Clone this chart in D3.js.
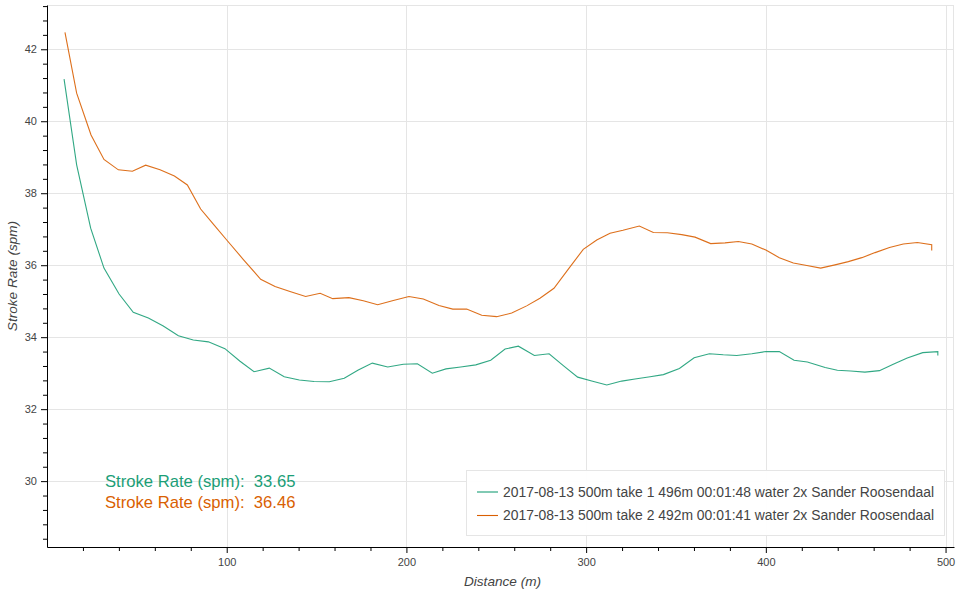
<!DOCTYPE html>
<html><head><meta charset="utf-8">
<script src="https://cdn.jsdelivr.net/npm/d3@7"></script>
<style>
html,body{margin:0;padding:0;background:#fff;}
text{font-family:"Liberation Sans",Arial,Helvetica,sans-serif;}
</style></head>
<body><svg id="chart" width="960" height="594"></svg>
<script>
// ---- data ----
const distance1 = [9.5,16.5,24.3,31.7,40.1,48.0,56.4,64.7,73.1,81.4,89.8,99.0,107.4,115.2,123.7,132.0,140.4,148.6,157.1,165.4,173.2,181.0,189.6,198.3,206.1,214.4,222.0,230.2,238.6,246.9,254.9,262.3,271.2,279.4,287.3,295.3,303.1,311.5,319.8,327.2,335.6,343.0,351.9,360.1,368.6,376.3,383.8,392.2,400.0,407.5,415.7,423.1,433.0,439.8,447.2,455.1,463.2,470.9,478.7,487.3,495.7,495.7];
const rate1 = [41.17,38.79,37.03,35.92,35.20,34.69,34.53,34.31,34.04,33.92,33.87,33.68,33.33,33.04,33.14,32.90,32.81,32.77,32.76,32.86,33.09,33.28,33.17,33.25,33.26,33.00,33.12,33.17,33.23,33.36,33.67,33.75,33.49,33.54,33.21,32.89,32.78,32.67,32.78,32.84,32.90,32.96,33.13,33.43,33.54,33.51,33.49,33.54,33.60,33.60,33.36,33.31,33.16,33.08,33.06,33.03,33.07,33.25,33.42,33.57,33.60,33.49];
const distance2 = [10.0,16.5,24.5,31.7,39.7,47.5,54.9,62.9,70.9,78.1,85.5,92.9,100.0,109.4,118.9,126.9,135.2,143.9,152.0,159.0,168.0,176.0,184.0,192.7,201.4,209.4,218.1,225.8,233.5,241.9,250.2,258.6,266.9,274.3,282.1,290.1,298.4,305.9,313.3,320.5,329.6,337.4,345.2,353.2,360.6,369.3,377.3,384.7,392.2,400.0,407.5,415.3,422.8,430.5,438.5,445.9,453.4,460.8,468.8,476.5,484.3,492.3,492.3];
const rate2 = [42.47,40.78,39.62,38.94,38.65,38.61,38.78,38.65,38.48,38.23,37.56,37.12,36.70,36.15,35.61,35.41,35.27,35.13,35.22,35.07,35.10,35.01,34.90,35.02,35.13,35.06,34.88,34.78,34.78,34.61,34.57,34.67,34.87,35.08,35.36,35.89,36.44,36.70,36.89,36.97,37.09,36.91,36.90,36.85,36.78,36.60,36.62,36.66,36.59,36.42,36.21,36.06,35.99,35.92,36.01,36.10,36.21,36.35,36.49,36.59,36.63,36.57,36.41];
const seriesNames = ["2017-08-13 500m take 1 496m 00:01:48 water 2x Sander Roosendaal",
                     "2017-08-13 500m take 2 492m 00:01:41 water 2x Sander Roosendaal"];
const seriesColors = ["#1b9e77", "#d95f02"];
const annotationLabels = ["Stroke Rate (spm):  33.65", "Stroke Rate (spm):  36.46"];
const xTicks = [100, 200, 300, 400, 500];
const yTicks = [30, 32, 34, 36, 38, 40, 42];
const xLabel = "Distance (m)";
const yLabel = "Stroke Rate (spm)";

// ---- layout ----
const W = 960, H = 594;
const m = {left: 47, top: 5, right: 6, bottom: 47};
const pw = W - m.left - m.right, ph = H - m.top - m.bottom;
const svg = d3.select("#chart");
const g = svg.append("g").attr("transform", `translate(${m.left},${m.top})`);

const x = d3.scaleLinear().domain([0, 504.7]).range([0, pw]);
const y = d3.scaleLinear().domain([28.17, 43.23]).range([ph, 0]);

const gridColor = "#e5e5e5";
// grid
g.append("g").selectAll("line").data(xTicks).join("line")
  .attr("x1", d => Math.round(x(d)) + 0.5).attr("x2", d => Math.round(x(d)) + 0.5)
  .attr("y1", 0).attr("y2", ph).attr("stroke", gridColor);
g.append("g").selectAll("line").data(yTicks).join("line")
  .attr("y1", d => Math.round(y(d)) + 0.5).attr("y2", d => Math.round(y(d)) + 0.5)
  .attr("x1", 0).attr("x2", pw).attr("stroke", gridColor);
// outline
g.append("rect").attr("x", 0.5).attr("y", 0.5).attr("width", pw - 1).attr("height", ph)
  .attr("fill", "none").attr("stroke", gridColor);

// lines
const series = [
  {d: distance1, r: rate1},
  {d: distance2, r: rate2}
];
const line = d3.line().x(d => x(d[0])).y(d => y(d[1]));
series.forEach((s, i) => {
  const pts = s.d.map((v, j) => [v, s.r[j]]);
  g.append("path").datum(pts).attr("d", line)
    .attr("fill", "none").attr("stroke", seriesColors[i]).attr("stroke-width", 1.1)
    .attr("stroke-opacity", 0.9);
});

// axes
const minorX = d3.range(20, 505, 20).filter(v => v % 100 !== 0);
const minorY = d3.range(28.4, 43.3, 0.4).filter(v => Math.abs(v / 2 - Math.round(v / 2)) > 0.01);

const xAxisG = g.append("g").attr("transform", `translate(0,${ph})`);
xAxisG.call(d3.axisBottom(x).tickValues(xTicks).tickSize(6).tickSizeOuter(0).tickPadding(5));
xAxisG.append("g").call(d3.axisBottom(x).tickValues(minorX).tickSize(4).tickSizeOuter(0).tickFormat(""))
  .select(".domain").remove();

const yAxisG = g.append("g");
yAxisG.call(d3.axisLeft(y).tickValues(yTicks).tickSize(6).tickSizeOuter(0).tickPadding(4));
yAxisG.append("g").call(d3.axisLeft(y).tickValues(minorY).tickSize(4).tickSizeOuter(0).tickFormat(""))
  .select(".domain").remove();

[xAxisG, yAxisG].forEach(a => {
  a.selectAll("text").attr("font-size", "11px").attr("fill", "#444")
    .attr("font-family", '"Liberation Sans",Arial,Helvetica,sans-serif');
  a.selectAll("line").attr("stroke", "#000");
  a.selectAll(".domain").attr("stroke", "#000");
});

// axis labels
svg.append("text").attr("x", m.left + pw / 2 + 2).attr("y", 586).attr("text-anchor", "middle")
  .attr("font-size", "13.6px").attr("font-style", "italic").attr("fill", "#444").text(xLabel);
svg.append("text").attr("transform", `translate(17,${m.top + ph / 2}) rotate(-90)`)
  .attr("text-anchor", "middle").attr("font-size", "13.6px").attr("font-style", "italic")
  .attr("fill", "#444").text(yLabel);

// annotations
annotationLabels.forEach((t, i) => {
  svg.append("text").attr("x", 105).attr("y", 487 + i * 20.5)
    .attr("font-size", "16.6px").attr("fill", seriesColors[i])
    .style("white-space", "pre")
    .attr("textLength", 190.5).attr("lengthAdjust", "spacingAndGlyphs").text(t);
});

// legend
const lg = svg.append("g");
lg.append("rect").attr("x", 466.5).attr("y", 470.5).attr("width", 478).attr("height", 65)
  .attr("fill", "#fff").attr("fill-opacity", 0.95).attr("stroke", gridColor);
seriesNames.forEach((n, i) => {
  const yy = 492 + i * 23.5;
  lg.append("line").attr("x1", 477).attr("x2", 498).attr("y1", yy).attr("y2", yy)
    .attr("stroke", seriesColors[i]).attr("stroke-width", 1.1);
  lg.append("text").attr("x", 503).attr("y", yy + 4.8).attr("font-size", "13.8px")
    .attr("fill", "#444")
    .attr("textLength", 431).attr("lengthAdjust", "spacingAndGlyphs").text(n);
});
</script></body></html>
